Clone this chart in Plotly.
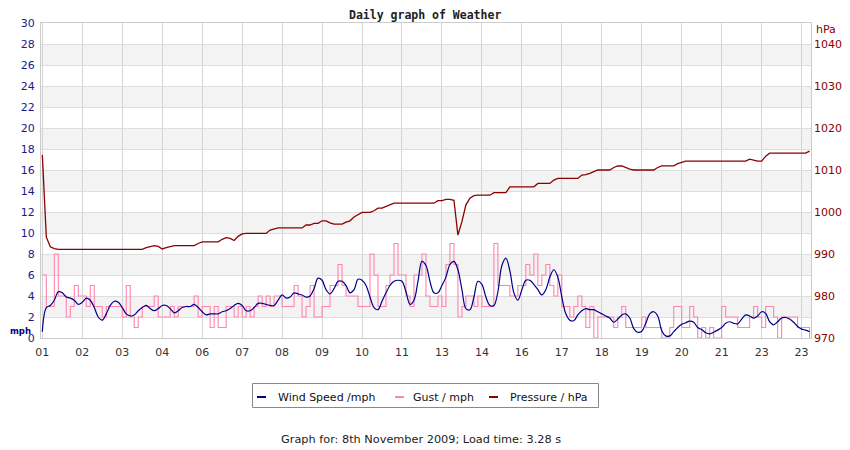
import plotly.graph_objects as go

# x axis: one sample every 4 px, labels shown every 10 samples
hour_labels = ["01", "02", "03", "04", "06", "07", "08", "09", "10", "11",
               "13", "14", "16", "17", "18", "19", "20", "21", "23", "23"]

# wind speed (mph), smoothed curve
wind_mph = [
    0.6, 2.9, 3.1, 3.6, 4.4, 4.3, 3.9, 3.8, 3.6, 3.2,
    3.4, 3.8, 3.6, 2.9, 2.0, 1.7, 2.3, 3.1, 3.5, 3.4,
    2.9, 2.3, 2.1, 2.2, 2.6, 2.9, 3.1, 2.8, 2.6, 2.8,
    3.1, 3.1, 2.8, 2.4, 2.6, 2.9, 3.0, 3.0, 3.2, 2.9,
    2.5, 2.2, 2.3, 2.3, 2.3, 2.5, 2.6, 2.8, 3.1, 3.3,
    3.1, 2.6, 2.6, 2.9, 3.3, 3.3, 3.2, 3.1, 3.1, 3.6,
    4.1, 3.8, 3.9, 4.3, 4.2, 4.1, 3.9, 4.0, 4.7, 5.7,
    5.5, 4.6, 4.2, 4.7, 5.4, 5.4, 5.0, 4.3, 4.6, 5.6,
    5.5, 5.0, 3.9, 2.9, 2.7, 3.5, 4.3, 5.0, 5.4, 5.5,
    5.4, 4.4, 3.2, 3.6, 5.4, 7.3, 6.9, 5.4, 4.3, 4.3,
    5.0, 5.8, 7.0, 7.3, 6.5, 4.6, 2.8, 2.7, 3.9, 5.4,
    5.1, 3.9, 3.1, 3.1, 4.4, 6.9, 7.6, 6.4, 4.3, 3.6,
    4.6, 5.5, 5.5, 5.1, 4.6, 4.1, 4.6, 5.8, 6.5, 5.8,
    3.9, 2.3, 1.7, 1.65, 2.2, 2.6, 2.8, 2.7, 2.7, 2.5,
    2.3, 2.1, 1.9, 1.5, 1.8, 2.2, 2.3, 1.9, 0.9, 0.55,
    0.65, 1.4, 2.3, 2.5, 2.1, 0.7, 0.2, 0.2, 0.6, 1.0,
    1.3, 1.45, 1.6, 1.5, 1.0, 0.8, 0.5, 0.4, 0.55, 0.75,
    1.0, 1.4, 1.55, 1.4, 1.35, 1.8, 2.2, 2.1, 1.9, 2.1,
    2.5, 2.35, 1.55, 1.25, 1.55, 1.9, 1.95, 1.8, 1.5, 1.1,
    0.85, 0.75, 0.6,
]

# gust (mph), whole numbers
gust_mph = [
    6, 3, 3, 8, 4, 4, 2, 3, 5, 4,
    4, 3, 5, 3, 3, 2, 3, 3, 3, 3,
    2, 5, 2, 1, 2, 3, 3, 3, 4, 2,
    2, 2, 3, 2, 3, 3, 3, 3, 4, 2,
    3, 3, 1, 3, 1, 1, 3, 3, 2, 3,
    2, 3, 2, 3, 4, 3, 4, 3, 4, 4,
    3, 3, 3, 5, 4, 2, 3, 5, 2, 2,
    3, 3, 5, 5, 7, 5, 4, 4, 4, 3,
    3, 3, 8, 6, 3, 3, 5, 6, 9, 6,
    6, 4, 3, 6, 6, 8, 4, 3, 3, 4,
    3, 7, 9, 7, 2, 3, 4, 4, 3, 4,
    3, 3, 3, 9, 5, 5, 5, 4, 4, 5,
    5, 7, 6, 8, 5, 6, 7, 5, 4, 6,
    3, 3, 2, 3, 4, 3, 1, 3, 0, 2,
    2, 2, 2, 1, 2, 3, 1, 1, 1, 1,
    2, 1, 1, 1, 1, 0, 0, 1, 3, 3,
    1, 1, 3, 2, 0, 1, 0, 1, 0, 0,
    3, 2, 2, 2, 1, 1, 1, 2, 3, 2,
    1, 3, 3, 2, 0, 2, 2, 2, 2, 1,
    1, 1, 0,
]

# pressure (hPa)
pressure_hpa = [
    1013.6, 994.0, 991.7, 991.3, 991.1, 991.1, 991.1, 991.1, 991.1, 991.1,
    991.1, 991.1, 991.1, 991.1, 991.1, 991.1, 991.1, 991.1, 991.1, 991.1,
    991.1, 991.1, 991.1, 991.1, 991.1, 991.1, 991.5, 991.8, 992.0, 991.8,
    991.2, 991.5, 991.7, 992.0, 992.0, 992.0, 992.0, 992.0, 992.0, 992.5,
    992.9, 992.9, 992.9, 992.9, 992.9, 993.5, 993.9, 993.7, 993.2, 994.2,
    994.8, 994.9, 994.9, 994.9, 994.9, 994.9, 994.9, 995.7, 996.0, 996.2,
    996.2, 996.2, 996.2, 996.2, 996.2, 996.2, 996.9, 996.9, 997.3, 997.3,
    997.9, 997.9, 997.4, 997.1, 997.1, 997.1, 997.6, 997.9, 998.8, 999.3,
    999.9, 999.9, 999.9, 1000.3, 1000.9, 1000.9, 1001.3, 1001.7, 1002.1, 1002.1,
    1002.1, 1002.1, 1002.1, 1002.1, 1002.1, 1002.1, 1002.1, 1002.1, 1002.1, 1002.7,
    1002.7, 1003.0, 1003.0, 1002.8, 994.5, 997.7, 1001.7, 1003.3, 1003.9, 1004.0,
    1004.0, 1004.0, 1004.0, 1004.6, 1004.6, 1004.6, 1004.6, 1006.0, 1006.0, 1006.0,
    1006.0, 1006.0, 1006.0, 1006.0, 1006.8, 1006.8, 1006.8, 1006.8, 1007.6, 1008.0,
    1008.0, 1008.0, 1008.0, 1008.0, 1008.0, 1008.8, 1008.9, 1009.2, 1009.6, 1010.0,
    1010.0, 1010.0, 1010.0, 1010.6, 1010.95, 1010.95, 1010.5, 1010.2, 1010.0, 1010.0,
    1010.0, 1010.0, 1010.0, 1010.0, 1010.6, 1011.0, 1011.0, 1011.0, 1011.0, 1011.5,
    1011.8, 1012.1, 1012.1, 1012.1, 1012.1, 1012.1, 1012.1, 1012.1, 1012.1, 1012.1,
    1012.1, 1012.1, 1012.1, 1012.1, 1012.1, 1012.1, 1012.1, 1012.6, 1012.3, 1012.1,
    1012.1, 1013.3, 1014.0, 1014.0, 1014.0, 1014.0, 1014.0, 1014.0, 1014.0, 1014.0,
    1014.0, 1014.0, 1014.5,
]

series_names = ["Wind Speed /mph", "Gust / mph", "Pressure / hPa"]
series_colors = ["#00008b", "#ff85ae", "#8b0000"]

idx = list(range(len(wind_mph)))

# page body has an 8px margin, so the figure is drawn from (8, 8) in the window.
# helpers map window pixels to paper coords (plot area is 41..811 x 23..338)
def px(x):
    return (x - 41) / 770

def py(y):
    return (338 - y) / 315

fig = go.Figure()
fig.add_trace(go.Scatter(x=idx, y=pressure_hpa, yaxis="y2", mode="lines",
                         line=dict(color=series_colors[2], width=1.3), name=series_names[2]))
fig.add_trace(go.Scatter(x=idx, y=gust_mph, mode="lines", line_shape="hv",
                         line=dict(color=series_colors[1], width=1.1), name=series_names[1]))
fig.add_trace(go.Scatter(x=idx, y=wind_mph, mode="lines", line_shape="spline",
                         line=dict(color=series_colors[0], width=1.2), name=series_names[0]))

shapes = []
# alternating grey bands
for b in range(2, 30, 4):
    shapes.append(dict(type="rect", xref="paper", yref="y", x0=0, x1=1, y0=b, y1=b + 2,
                       fillcolor="#f3f3f3", line_width=0, layer="below"))
# legend box and swatches
shapes.append(dict(type="rect", xref="paper", yref="paper", x0=px(252.5), x1=px(598.5),
                   y0=py(383.5), y1=py(407.5), line=dict(color="#888888", width=1)))
sw_x = [257, 395, 489]
txt_x = [276, 411, 508]
for k in range(3):
    shapes.append(dict(type="line", xref="paper", yref="paper", x0=px(sw_x[k]), x1=px(sw_x[k] + 9),
                       y0=py(397), y1=py(397), line=dict(color=series_colors[k], width=2)))

def note(text, x, y, xanchor="center", size=11, color="#222", family="DejaVu Sans"):
    return dict(text=text, xref="paper", yref="paper", x=px(x), y=py(y),
                xanchor=xanchor, yanchor="middle", showarrow=False,
                font=dict(family=family, size=size, color=color))

annotations = [
    note("<b>Daily graph of Weather</b>", 425, 15, size=11.5, family="DejaVu Sans Mono"),
    note("<b>mph</b>", 8, 331, xanchor="left", size=8.5, color="#000080"),
    note("hPa", 826, 29, color="#8b0000"),
    note("Graph for: 8th November 2009; Load time: 3.28 s", 421, 439, size=11.3),
]
for k in range(3):
    annotations.append(note(series_names[k], txt_x[k], 397, xanchor="left", color="#111"))

fig.update_layout(
    width=842, height=442,
    margin=dict(l=33, r=39, t=15, b=112),
    paper_bgcolor="white", plot_bgcolor="white",
    showlegend=False,
    font=dict(family="DejaVu Sans", size=11),
    xaxis=dict(range=[-0.33, 192.35], tickvals=list(range(0, 200, 10)), ticktext=hour_labels,
               showgrid=True, gridcolor="#d4d4d4", zeroline=False,
               showline=True, linecolor="#cccccc", mirror=True, automargin=False,
               ticklabelstandoff=4, tickfont=dict(color="#333333", size=11)),
    yaxis=dict(range=[0, 30], dtick=2, showgrid=True, gridcolor="#dddddd", zeroline=False,
               showline=True, linecolor="#cccccc", mirror=True, automargin=False,
               ticklabelstandoff=3, tickfont=dict(color="#1a1a8c", size=11)),
    yaxis2=dict(range=[970, 1045], tickvals=list(range(970, 1050, 10)), overlaying="y", side="right",
                showgrid=False, zeroline=False, automargin=False,
                ticklabelstandoff=2, tickfont=dict(color="#8b0000", size=11)),
    shapes=shapes,
    annotations=annotations,
)

fig.write_html("out.html")
